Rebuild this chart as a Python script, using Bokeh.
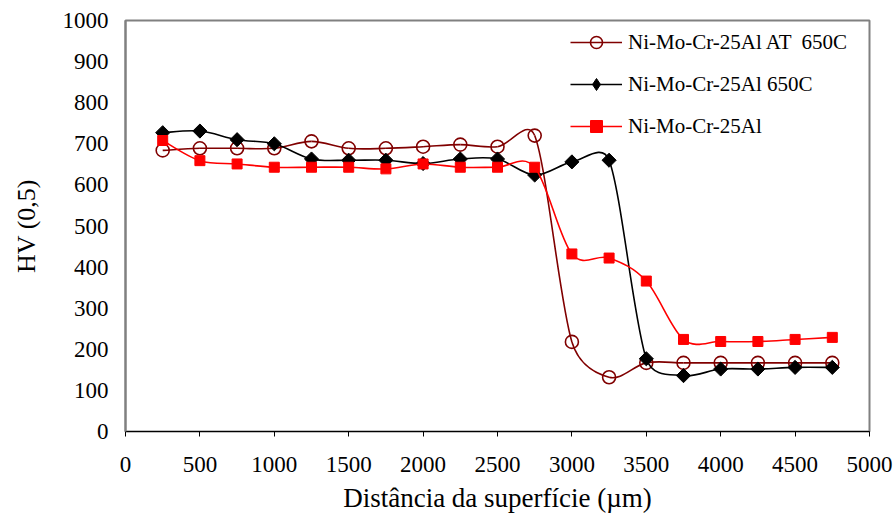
import numpy as np
from bokeh.plotting import figure
from bokeh.models import FixedTicker, Legend, LegendItem
from bokeh.embed import file_html
from bokeh.resources import INLINE

# ---- data ----
distance = [250, 500, 750, 1000, 1250, 1500, 1750, 2000, 2250, 2500,
            2750, 3000, 3250, 3500, 3750, 4000, 4250, 4500, 4750]
hv_at_650c = [684, 689, 689, 689, 706, 689, 689, 693, 698, 693,
              720, 218, 132, 167, 167, 167, 167, 167, 167]
hv_650c = [727, 731, 710, 700, 663, 660, 660, 652, 663, 663,
           624, 656, 660, 177, 136, 152, 152, 156, 156]
hv_base = [708, 659, 651, 643, 643, 643, 639, 651, 643, 643,
           643, 432, 422, 366, 224, 219, 219, 224, 229]

series_names = ["Ni-Mo-Cr-25Al AT  650C", "Ni-Mo-Cr-25Al 650C", "Ni-Mo-Cr-25Al"]
x_ticks = [0, 500, 1000, 1500, 2000, 2500, 3000, 3500, 4000, 4500, 5000]
y_ticks = [0, 100, 200, 300, 400, 500, 600, 700, 800, 900, 1000]
x_label = "Distância da superfície (µm)"
y_label = "HV (0,5)"

FONT = "Liberation Serif"
W, H = 896, 519
BL, BR, BT, BB = 125, 27, 20, 88
X_RANGE = (0, 5000)
Y_RANGE = (0, 1000)
SX = (W - BL - BR) / (X_RANGE[1] - X_RANGE[0])   # px per x unit
SY = (H - BT - BB) / (Y_RANGE[1] - Y_RANGE[0])   # px per y unit


def smooth_segments(xs, ys):
    """Bezier control points for an Excel-like smoothed line.
    Tangents are Catmull-Rom (1/6), each limited to half the segment length
    measured on screen, as the spreadsheet's smoothing does."""
    xs = np.asarray(xs, float)
    ys = np.asarray(ys, float)
    n = len(xs)
    xp = np.concatenate([[xs[0]], xs, [xs[-1]]])
    yp = np.concatenate([[ys[0]], ys, [ys[-1]]])
    seg = {k: [] for k in ("x0", "y0", "x1", "y1", "cx0", "cy0", "cx1", "cy1")}

    def dist(ax, ay, bx, by):
        return np.hypot((bx - ax) * SX, (by - ay) * SY)

    for i in range(n - 1):
        p0x, p0y = xp[i], yp[i]
        p1x, p1y = xp[i + 1], yp[i + 1]
        p2x, p2y = xp[i + 2], yp[i + 2]
        p3x, p3y = xp[i + 3], yp[i + 3]
        d02 = dist(p0x, p0y, p2x, p2y)
        d12 = dist(p1x, p1y, p2x, p2y)
        d13 = dist(p1x, p1y, p3x, p3y)
        f1 = 1.0 / 6.0
        f2 = 1.0 / 6.0
        if d02 > 0 and d02 / 6.0 > d12 / 2.0:
            f1 = d12 / (2.0 * d02)
        if d13 > 0 and d13 / 6.0 > d12 / 2.0:
            f2 = d12 / (2.0 * d13)
        seg["x0"].append(p1x); seg["y0"].append(p1y)
        seg["x1"].append(p2x); seg["y1"].append(p2y)
        seg["cx0"].append(p1x + (p2x - p0x) * f1)
        seg["cy0"].append(p1y + (p2y - p0y) * f1)
        seg["cx1"].append(p2x - (p3x - p1x) * f2)
        seg["cy1"].append(p2y - (p3y - p1y) * f2)
    return seg


p = figure(width=W, height=H, x_range=X_RANGE, y_range=Y_RANGE,
           output_backend="svg", toolbar_location=None,
           min_border_left=BL, min_border_right=BR,
           min_border_top=BT, min_border_bottom=BB)
p.xgrid.visible = False
p.ygrid.visible = False
p.background_fill_color = "white"
p.border_fill_color = "white"
p.outline_line_color = "#808080"
p.outline_line_width = 2

# x axis
p.xaxis.ticker = FixedTicker(ticks=x_ticks)
p.xaxis.axis_line_color = "black"
p.xaxis.axis_line_width = 1
p.xaxis.major_tick_line_color = "black"
p.xaxis.major_tick_out = 5
p.xaxis.major_tick_in = 0
p.xaxis.minor_tick_line_color = None
p.xaxis.major_label_standoff = 20
p.xaxis.major_label_text_font = FONT
p.xaxis.major_label_text_font_size = "23px"
p.xaxis.major_label_text_color = "black"
p.xaxis.axis_label = x_label
p.xaxis.axis_label_text_font = FONT
p.xaxis.axis_label_text_font_size = "27px"
p.xaxis.axis_label_text_font_style = "normal"
p.xaxis.axis_label_text_color = "black"
p.xaxis.axis_label_standoff = 8

# y axis
p.yaxis.ticker = FixedTicker(ticks=y_ticks)
p.yaxis.axis_line_color = "#808080"
p.yaxis.axis_line_width = 2
p.yaxis.major_tick_line_color = None
p.yaxis.major_tick_out = 0
p.yaxis.major_tick_in = 0
p.yaxis.minor_tick_line_color = None
p.yaxis.major_label_standoff = 17
p.yaxis.major_label_text_font = FONT
p.yaxis.major_label_text_font_size = "23px"
p.yaxis.major_label_text_color = "black"
p.yaxis.axis_label = y_label
p.yaxis.axis_label_text_font = FONT
p.yaxis.axis_label_text_font_size = "26px"
p.yaxis.axis_label_text_font_style = "normal"
p.yaxis.axis_label_text_color = "black"
p.yaxis.axis_label_standoff = 19

colors = ["#800000", "black", "#FF0000"]
all_series = [hv_at_650c, hv_650c, hv_base]
items = []
for name, ys, col in zip(series_names, all_series, colors):
    seg = smooth_segments(distance, ys)
    line_r = p.bezier(x0="x0", y0="y0", x1="x1", y1="y1",
                      cx0="cx0", cy0="cy0", cx1="cx1", cy1="cy1",
                      source=seg, line_color=col, line_width=1.6)
    if col == "#800000":
        mk = p.scatter(distance, ys, marker="circle", size=13,
                       line_color=col, line_width=1.6, fill_color="white", fill_alpha=0)
        leg_r = [line_r, mk]
    elif col == "black":
        mk = p.scatter(distance, ys, marker="square", angle=np.pi / 4, size=10,
                       line_color=col, fill_color=col)
        # legend-only diamond (legend markers are drawn unrotated)
        mk_leg = p.scatter(distance, ys, marker="diamond", size=14,
                           line_color=col, fill_color=col, visible=False)
        leg_r = [line_r, mk_leg]
    else:
        mk = p.scatter(distance, ys, marker="square", size=10,
                       line_color=col, fill_color=col)
        leg_r = [line_r, mk]
    items.append(LegendItem(label=name, renderers=leg_r))

legend = Legend(items=items, location=(445, 290))
legend.click_policy = "none"
legend.border_line_color = None
legend.background_fill_color = "white"
legend.background_fill_alpha = 1.0
legend.inactive_fill_alpha = 0.0
legend.padding = 8
legend.spacing = 12
legend.margin = 0
legend.label_height = 30
legend.glyph_height = 30
legend.glyph_width = 52
legend.label_standoff = 6
legend.label_text_font = FONT
legend.label_text_font_size = "21px"
legend.label_text_color = "black"
p.add_layout(legend)

open("out.html", "w").write(file_html(p, INLINE))
